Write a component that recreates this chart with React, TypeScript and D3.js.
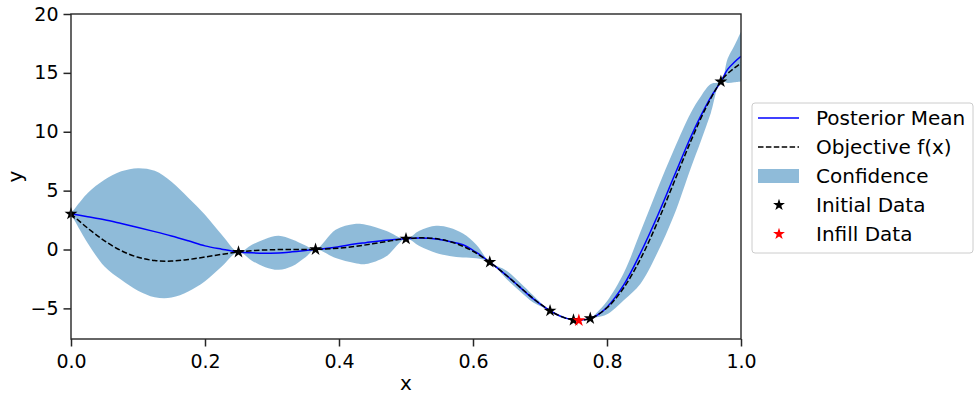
import React, { useEffect, useRef } from 'react';
import * as d3 from 'd3';

// Objective f(x)
const objX = [0, 0.025, 0.05, 0.075, 0.1, 0.125, 0.15, 0.175, 0.2, 0.225, 0.25, 0.275, 0.3, 0.325, 0.35, 0.375, 0.4, 0.425, 0.45, 0.475, 0.5, 0.525, 0.55, 0.575, 0.6, 0.625, 0.65, 0.675, 0.7, 0.725, 0.75, 0.775, 0.8, 0.825, 0.85, 0.875, 0.9, 0.925, 0.95, 0.975, 1.0];
const objY = [3.03, 1.81, 0.74, -0.1, -0.66, -0.94, -0.98, -0.85, -0.64, -0.41, -0.21, -0.08, -0.02, 0.0, 0.0, 0.03, 0.12, 0.27, 0.48, 0.72, 0.91, 0.99, 0.87, 0.5, -0.15, -1.07, -2.21, -3.44, -4.61, -5.52, -5.99, -5.85, -4.95, -3.25, -0.8, 2.27, 5.71, 9.19, 12.3, 14.65, 15.83];

// GP posterior mean and the confidence band edges
const gpX = [0, 0.025, 0.05, 0.075, 0.1, 0.125, 0.15, 0.175, 0.2, 0.225, 0.25, 0.27, 0.29, 0.31, 0.33, 0.35, 0.365, 0.395, 0.423, 0.44, 0.47, 0.5, 0.52, 0.545, 0.565, 0.585, 0.605, 0.625, 0.65, 0.67, 0.69, 0.715, 0.732, 0.75, 0.758, 0.775, 0.785, 0.8, 0.825, 0.85, 0.875, 0.9, 0.925, 0.94, 0.955, 0.97, 0.98, 0.99, 1.0];
const gpMean = [3.03, 2.78, 2.52, 2.2, 1.87, 1.52, 1.15, 0.74, 0.31, 0.03, -0.21, -0.28, -0.31, -0.3, -0.2, -0.08, 0.0, 0.2, 0.46, 0.58, 0.78, 0.91, 0.97, 0.9, 0.68, 0.4, -0.25, -1.07, -2.2, -3.2, -4.2, -5.2, -5.7, -5.99, -6.02, -5.85, -5.6, -4.9, -3.0, -0.3, 2.8, 6.2, 9.55, 11.35, 12.95, 14.26, 15.3, 15.9, 16.4];
const gpUpper = [3.03, 4.79, 5.92, 6.64, 6.91, 6.68, 5.75, 4.4, 2.95, 1.25, -0.21, 0.4, 0.9, 1.16, 0.85, 0.35, 0.0, 1.67, 2.16, 2.1, 1.6, 0.91, 1.6, 2.01, 1.85, 1.35, 0.4, -1.07, -1.8, -2.8, -3.9, -5.2, -5.6, -5.99, -6.02, -5.85, -5.35, -4.4, -2.0, 1.5, 5.1, 8.5, 11.6, 13.0, 14.05, 14.26, 16.2, 17.3, 18.5];
const gpLower = [3.03, 0.54, -1.44, -2.57, -3.5, -4.05, -4.08, -3.57, -2.7, -1.45, -0.21, -0.95, -1.5, -1.72, -1.42, -0.65, 0.0, -0.73, -1.15, -1.24, -0.6, 0.91, 0.3, -0.3, -0.55, -0.68, -0.75, -1.07, -2.5, -3.55, -4.5, -5.2, -5.8, -5.99, -6.02, -5.85, -5.75, -5.5, -4.3, -2.9, -0.3, 2.9, 6.9, 9.2, 11.6, 14.26, 14.15, 14.2, 14.27];

const initialX = [0, 0.25, 0.365, 0.5, 0.625, 0.715, 0.75, 0.775, 0.97];
const initialY = [3.03, -0.21, 0.01, 0.91, -1.07, -5.2, -5.99, -5.85, 14.26];
const infillX = [0.758];
const infillY = [-6.02];

const xTicks = [0, 0.2, 0.4, 0.6, 0.8, 1.0];
const yTicks = [-5, 0, 5, 10, 15, 20];
const legendLabels = ['Posterior Mean', 'Objective f(x)', 'Confidence', 'Initial Data', 'Infill Data'];

const App: React.FC = () => {
  const ref = useRef<SVGSVGElement | null>(null);

  useEffect(() => {
    if (!ref.current) return;
    const svg = d3.select(ref.current);
    svg.selectAll('*').remove();

    const left = 71, right = 741, top = 14, bottom = 339;
    const font = 'DejaVu Sans, sans-serif';

    const x = d3.scaleLinear().domain([0, 1]).range([left, right]);
    const y = d3.scaleLinear().domain([-7.6, 20]).range([bottom, top]);

    const clip = svg.append('clipPath').attr('id', 'plotclip');
    clip.append('rect').attr('x', left).attr('y', top).attr('width', right - left).attr('height', bottom - top);

    const plot = svg.append('g').attr('clip-path', 'url(#plotclip)');

    // confidence band
    const band = d3.area<number>()
      .x((d) => x(d))
      .y0((_, i) => y(gpLower[i]))
      .y1((_, i) => y(gpUpper[i]))
      .curve(d3.curveCatmullRom);
    plot.append('path').attr('d', band(gpX) || '').attr('fill', '#1f77b4').attr('fill-opacity', 0.5);

    const meanLine = d3.line<number>().x((_, i) => x(gpX[i])).y((m) => y(m)).curve(d3.curveCatmullRom);
    plot.append('path').attr('d', meanLine(gpMean) || '').attr('fill', 'none').attr('stroke', 'blue').attr('stroke-width', 1.5);

    const objLine = d3.line<number>().x((_, i) => x(objX[i])).y((v) => y(v)).curve(d3.curveCatmullRom);
    plot.append('path').attr('d', objLine(objY) || '').attr('fill', 'none').attr('stroke', 'black')
      .attr('stroke-width', 1.5).attr('stroke-dasharray', '5.5,2.4');

    const star = d3.symbol().type(d3.symbolStar).size(52);
    const legendStar = d3.symbol().type(d3.symbolStar).size(44);
    svg.append('g').selectAll('path').data(initialX).enter().append('path')
      .attr('d', star() || '')
      .attr('transform', (d, i) => `translate(${x(d)},${y(initialY[i])})`)
      .attr('fill', 'black');
    svg.append('g').selectAll('path').data(infillX).enter().append('path')
      .attr('d', star() || '')
      .attr('transform', (d, i) => `translate(${x(d)},${y(infillY[i])})`)
      .attr('fill', 'red');

    // spines
    svg.append('rect').attr('x', left).attr('y', top).attr('width', right - left).attr('height', bottom - top)
      .attr('fill', 'none').attr('stroke', '#262626').attr('stroke-width', 1.4);

    // axes
    const xAxis = svg.append('g').attr('transform', `translate(0,${bottom})`)
      .call(d3.axisBottom(x).tickValues(xTicks).tickFormat(d3.format('.1f')).tickSize(7.5).tickPadding(7.7).tickSizeOuter(0));
    const yAxis = svg.append('g').attr('transform', `translate(${left},0)`)
      .call(d3.axisLeft(y).tickValues(yTicks).tickFormat(d3.format('d')).tickSize(7.5).tickPadding(5).tickSizeOuter(0));
    [xAxis, yAxis].forEach((a) => {
      a.select('.domain').remove();
      a.selectAll('line').attr('stroke', '#262626').attr('stroke-width', 1.5);
      a.selectAll('text').attr('font-family', font).attr('font-size', 19).attr('fill', 'black');
    });

    svg.append('text').attr('x', (left + right) / 2).attr('y', 390).attr('text-anchor', 'middle')
      .attr('font-family', font).attr('font-size', 20).text('x');
    svg.append('text').attr('transform', `translate(22,${(top + bottom) / 2}) rotate(-90)`).attr('text-anchor', 'middle')
      .attr('font-family', font).attr('font-size', 20).text('y');

    // legend
    const lg = svg.append('g');
    lg.append('rect').attr('x', 752).attr('y', 103).attr('width', 221).attr('height', 150).attr('rx', 3)
      .attr('fill', 'white').attr('fill-opacity', 0.8).attr('stroke', '#cccccc').attr('stroke-width', 1);
    legendLabels.forEach((label, i) => {
      const cy = 118 + i * 29;
      if (i === 0) {
        lg.append('line').attr('x1', 758).attr('x2', 799).attr('y1', cy).attr('y2', cy).attr('stroke', 'blue').attr('stroke-width', 1.5);
      } else if (i === 1) {
        lg.append('line').attr('x1', 758).attr('x2', 799).attr('y1', cy).attr('y2', cy).attr('stroke', 'black')
          .attr('stroke-width', 1.5).attr('stroke-dasharray', '5.5,2.4');
      } else if (i === 2) {
        lg.append('rect').attr('x', 758).attr('y', cy - 7).attr('width', 41).attr('height', 14)
          .attr('fill', '#1f77b4').attr('fill-opacity', 0.5);
      } else {
        lg.append('path').attr('d', legendStar() || '').attr('transform', `translate(779,${cy})`)
          .attr('fill', i === 3 ? 'black' : 'red');
      }
      lg.append('text').attr('x', 816).attr('y', cy).attr('dy', '0.35em')
        .attr('font-family', font).attr('font-size', 20).text(label);
    });
  }, []);

  return (
    <svg ref={ref} width={980} height={401} style={{ position: 'absolute', left: 0, top: 0, background: 'white' }} />
  );
};

export default App;
